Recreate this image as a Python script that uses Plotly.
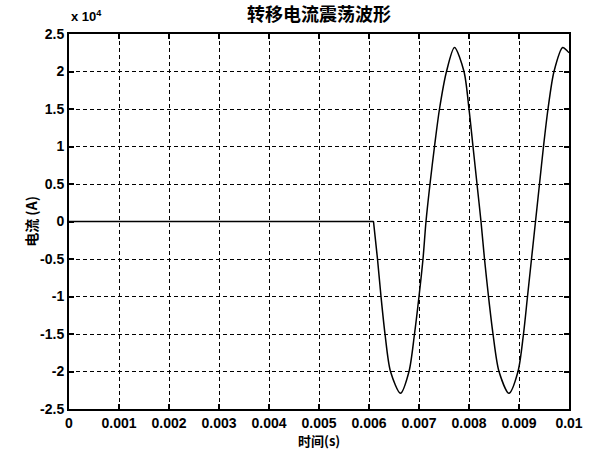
import plotly.graph_objects as go

# Time (ms) and current (x1e4 A)
flat_t_ms = [0.0, 6.09]
flat_i_e4 = [0.0, 0.0]

osc_t_ms = [6.09, 6.17, 6.24, 6.32, 6.43, 6.63, 6.80, 6.91, 7.00, 7.08, 7.14,
            7.22, 7.31, 7.41, 7.55, 7.71, 7.90, 8.00, 8.08, 8.16, 8.24,
            8.31, 8.39, 8.48, 8.60, 8.80, 8.98, 9.09, 9.17, 9.25, 9.33,
            9.41, 9.49, 9.58, 9.70, 9.875, 9.97, 10.0]
osc_i_e4 = [0.0, -0.5, -1.0, -1.5, -2.0, -2.29, -2.0, -1.5, -1.0, -0.5, 0.0,
            0.5, 1.0, 1.5, 2.0, 2.32, 2.0, 1.5, 1.0, 0.5, 0.0,
            -0.5, -1.0, -1.5, -2.0, -2.29, -2.0, -1.5, -1.0, -0.5, 0.0,
            0.5, 1.0, 1.5, 2.0, 2.32, 2.27, 2.25]

x_ticks = [0, 0.001, 0.002, 0.003, 0.004, 0.005, 0.006, 0.007, 0.008, 0.009, 0.01]
x_ticklabels = ["0", "0.001", "0.002", "0.003", "0.004", "0.005", "0.006",
                "0.007", "0.008", "0.009", "0.01"]
y_ticks = [-25000, -20000, -15000, -10000, -5000, 0, 5000, 10000, 15000, 20000, 25000]
y_ticklabels = ["-2.5", "-2", "-1.5", "-1", "-0.5", "0", "0.5", "1", "1.5", "2", "2.5"]

title_text = "转移电流震荡波形"
xlabel = "时间(s)"
ylabel = "电流 (A)"

FONT = "Liberation Sans, Arial, Noto Sans CJK SC"
CJK = "Noto Sans CJK SC, Liberation Sans"

fig = go.Figure()
fig.add_trace(go.Scatter(
    x=[t / 1000 for t in flat_t_ms], y=[v * 1e4 for v in flat_i_e4],
    mode="lines", line=dict(color="black", width=1.5), showlegend=False))
fig.add_trace(go.Scatter(
    x=[t / 1000 for t in osc_t_ms], y=[v * 1e4 for v in osc_i_e4],
    mode="lines", line=dict(color="black", width=1.5, shape="spline", smoothing=0.8),
    showlegend=False))

L, R, T, B = 69, 22, 34, 41
W, H = 595, 450
pw = W - L - R
ph = H - T - B

axis_common = dict(
    showline=True, linecolor="black", linewidth=2, mirror="ticks",
    ticks="inside", ticklen=5, tickcolor="black", tickwidth=1.5,
    showgrid=True, gridcolor="black", gridwidth=1.2, griddash="4px,3px",
    zeroline=False,
    tickfont=dict(family=FONT, size=14, color="black", weight="bold"),
)

fig.update_xaxes(range=[0, 0.01], tickvals=x_ticks, ticktext=x_ticklabels, **axis_common)
fig.update_yaxes(range=[-25000, 25000], tickvals=y_ticks, ticktext=y_ticklabels, **axis_common)

fig.update_layout(
    width=W, height=H,
    margin=dict(l=L, r=R, t=T, b=B),
    paper_bgcolor="white", plot_bgcolor="white",
    annotations=[
        dict(text=title_text, xref="paper", yref="paper", x=0.5, y=(ph + T - 13) / ph,
             xanchor="center", yanchor="middle", showarrow=False,
             font=dict(family=CJK, size=18, color="black", weight="bold")),
        dict(text="x 10<sup>4</sup>", xref="paper", yref="paper", x=0.0, y=(ph + 8) / ph,
             xanchor="left", yanchor="bottom", showarrow=False,
             font=dict(family=FONT, size=13, color="black", weight="bold")),
        dict(text=xlabel, xref="paper", yref="paper", x=0.5, y=-(440 - (H - B)) / ph,
             xanchor="center", yanchor="middle", showarrow=False,
             font=dict(family=CJK, size=13, color="black", weight="bold")),
        dict(text=ylabel, xref="paper", yref="paper", x=-(L - 30) / pw, y=0.5,
             xanchor="center", yanchor="middle", showarrow=False, textangle=-90,
             font=dict(family=CJK, size=14, color="black", weight="bold")),
    ],
)

fig.write_html("out.html")
